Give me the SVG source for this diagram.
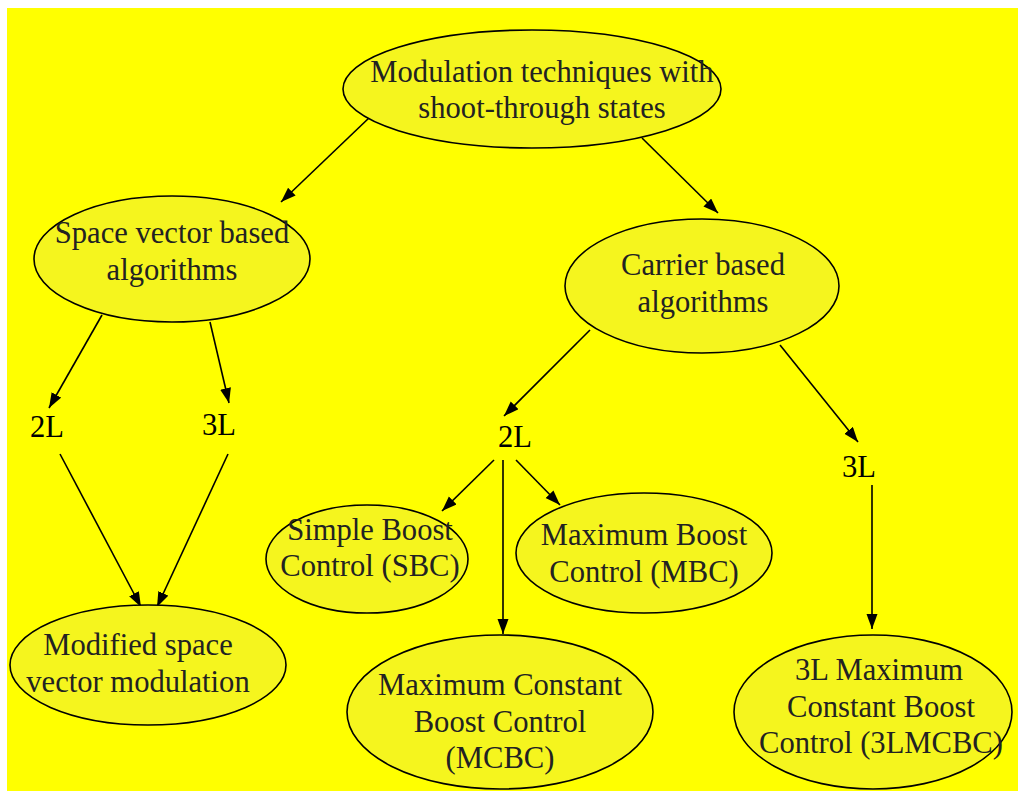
<svg xmlns="http://www.w3.org/2000/svg" width="1018" height="791" viewBox="0 0 1018 791">
<defs>
<marker id="ah" markerWidth="16" markerHeight="12" refX="15" refY="5.5" orient="auto" markerUnits="userSpaceOnUse">
<path d="M0,0 L15,5.5 L0,11 z" fill="#000"/>
</marker>
<style>
.n{fill:#f5f51e;stroke:#000;stroke-width:1.6}
.t{font-family:"Liberation Serif","Times New Roman",serif;font-size:30.6px;fill:#222;text-anchor:middle}
.l{font-family:"Liberation Serif","Times New Roman",serif;font-size:30.6px;fill:#000;text-anchor:middle}
.e{stroke:#000;stroke-width:1.6;fill:none;marker-end:url(#ah)}
</style>
</defs>
<rect x="0" y="0" width="1018" height="791" fill="#fff"/>
<rect x="7" y="8" width="1011" height="783" fill="#ffff00"/>
<g id="connectors">
<line class="e" x1="370" y1="117" x2="281" y2="202"/>
<line class="e" x1="642" y1="138" x2="718" y2="213"/>
<line class="e" x1="102" y1="315" x2="49" y2="408"/>
<line class="e" x1="210" y1="322" x2="229" y2="403"/>
<line class="e" x1="60" y1="454" x2="141" y2="607"/>
<line class="e" x1="228" y1="454" x2="157" y2="607"/>
<line class="e" x1="590" y1="330" x2="504" y2="416"/>
<line class="e" x1="780" y1="345" x2="858" y2="442"/>
<line class="e" x1="494" y1="460" x2="442" y2="511"/>
<line class="e" x1="503" y1="460" x2="503" y2="634"/>
<line class="e" x1="516" y1="460" x2="560" y2="505"/>
<line class="e" x1="872" y1="485" x2="872" y2="629"/>
</g>
<g id="root">
<ellipse class="n" cx="532" cy="89" rx="189" ry="59"/>
<text class="t" x="542" y="82">Modulation techniques with</text>
<text class="t" x="542" y="118">shoot-through states</text>
</g>
<g id="sv">
<ellipse class="n" cx="172" cy="259" rx="138" ry="63"/>
<text class="t" x="172" y="243">Space vector based</text>
<text class="t" x="172" y="280">algorithms</text>
</g>
<g id="carrier">
<ellipse class="n" cx="702" cy="286" rx="137" ry="67"/>
<text class="t" x="703" y="275">Carrier based</text>
<text class="t" x="703" y="312">algorithms</text>
</g>
<g id="sv2L"><text class="l" x="47" y="437">2L</text></g>
<g id="sv3L"><text class="l" x="219" y="435">3L</text></g>
<g id="cb2L"><text class="l" x="515" y="447">2L</text></g>
<g id="cb3L"><text class="l" x="859" y="477">3L</text></g>
<g id="msvm">
<ellipse class="n" cx="148" cy="665" rx="138" ry="60"/>
<text class="t" x="138" y="655">Modified space</text>
<text class="t" x="138" y="692">vector modulation</text>
</g>
<g id="sbc">
<ellipse class="n" cx="367" cy="559" rx="101" ry="54"/>
<text class="t" x="370" y="540">Simple Boost</text>
<text class="t" x="370" y="576">Control (SBC)</text>
</g>
<g id="mbc">
<ellipse class="n" cx="644" cy="553" rx="128" ry="60"/>
<text class="t" x="644" y="545">Maximum Boost</text>
<text class="t" x="644" y="582">Control (MBC)</text>
</g>
<g id="mcbc">
<ellipse class="n" cx="500" cy="712" rx="153" ry="77"/>
<text class="t" x="500" y="695">Maximum Constant</text>
<text class="t" x="500" y="732">Boost Control</text>
<text class="t" x="500" y="768">(MCBC)</text>
</g>
<g id="mcbc3l">
<ellipse class="n" cx="873" cy="712" rx="139" ry="77"/>
<text class="t" x="879" y="680">3L Maximum</text>
<text class="t" x="881" y="717">Constant Boost</text>
<text class="t" x="881" y="753">Control (3LMCBC)</text>
</g>
</svg>
